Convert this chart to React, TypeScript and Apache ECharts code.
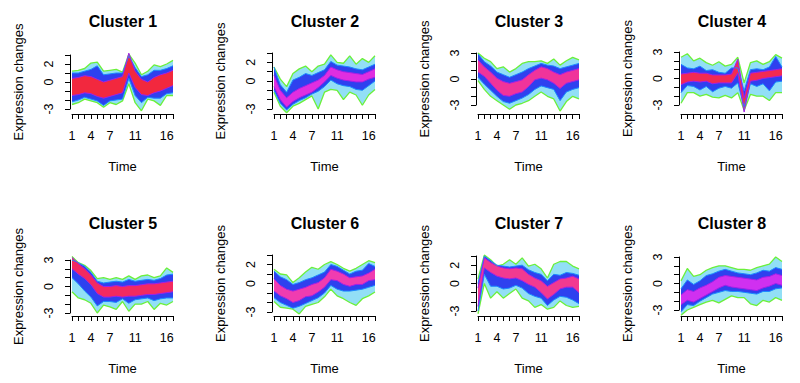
import React, { useEffect, useRef } from 'react';
import * as echarts from 'echarts';

// ---------- data ----------
const TIME = [1, 2, 3, 4, 5, 6, 7, 8, 9, 10, 11, 12, 13, 14, 15, 16, 17];
const X_TICK_LABELS = [1, 4, 7, 11, 16];
const Y_LABELS_A = [-3, 0, 2];
const Y_LABELS_B = [-3, 0, 3];
const TITLES = ['Cluster 1', 'Cluster 2', 'Cluster 3', 'Cluster 4', 'Cluster 5', 'Cluster 6', 'Cluster 7', 'Cluster 8'];

// Cluster 1
const hi1 = [1.2, 1.3, 1.5, 2.1, 2.2, 1.2, 1.3, 1.4, 1.1, 3.1, 2.1, 0.8, 1.2, 1.9, 1.7, 2.0, 2.4];
const bHi1 = [1.0, 1.0, 1.2, 1.4, 1.8, 0.8, 0.9, 1.0, 1.0, 2.9, 1.6, 0.6, 0.8, 1.3, 1.3, 1.5, 1.8];
const rHi1 = [0.4, 0.5, 0.7, 0.6, 0.3, 0.0, 0.2, 0.4, 0.6, 3.2, 1.2, 0.3, 0.0, 0.5, 0.8, 1.0, 1.3];
const rLo1 = [-1.5, -1.4, -1.2, -1.3, -1.6, -1.8, -1.6, -1.4, -1.2, 1.0, -0.6, -1.4, -1.5, -1.2, -1.0, -0.7, -0.4];
const bLo1 = [-2.2, -2.0, -1.7, -1.9, -2.1, -2.6, -2.1, -2.0, -1.9, 0.4, -1.5, -2.3, -1.7, -1.8, -1.8, -1.3, -1.2];
const lo1 = [-2.5, -2.3, -1.9, -2.1, -2.3, -2.8, -2.3, -2.5, -2.1, -0.2, -2.3, -3.2, -1.9, -2.1, -2.6, -1.5, -1.5];

// Cluster 2
const hi2 = [1.5, 0.2, -0.6, 0.8, 1.3, 1.6, 1.0, 1.6, 1.8, 2.8, 2.0, 1.9, 2.7, 1.8, 2.4, 2.0, 2.7];
const bHi2 = [1.5, -0.4, -1.2, 0.1, 0.4, 0.8, 0.6, 0.9, 1.2, 2.1, 1.7, 1.6, 1.5, 1.3, 1.2, 1.5, 1.8];
const rHi2 = [0.6, -1.0, -1.8, -1.2, -0.8, -0.5, -0.2, 0.1, 0.6, 1.5, 1.2, 1.0, 0.9, 0.8, 0.7, 1.0, 1.3];
const rLo2 = [-0.6, -2.0, -2.8, -2.2, -1.8, -1.5, -1.2, -0.7, -0.1, 0.6, 0.3, 0.1, 0.0, -0.1, -0.1, 0.2, 0.4];
const bLo2 = [-1.0, -2.4, -3.1, -2.5, -2.1, -1.8, -1.4, -1.1, -0.6, 0.1, -0.3, -0.5, -0.6, -0.9, -1.0, -0.5, 0.0];
const lo2 = [-1.2, -2.7, -3.4, -2.7, -2.4, -2.0, -1.6, -3.0, -1.2, -0.9, -1.0, -2.0, -1.2, -1.5, -2.6, -1.5, -0.9];

// Cluster 3
const hi3 = [3.0, 2.4, 2.0, 1.2, 1.4, 0.8, 1.2, 1.8, 2.0, 2.0, 2.1, 1.8, 2.3, 1.6, 2.1, 2.5, 2.2];
const bHi3 = [2.9, 2.0, 1.5, 0.8, 0.5, 0.2, 0.5, 0.8, 1.2, 1.5, 1.8, 1.6, 1.5, 1.2, 1.4, 1.6, 1.8];
const rHi3 = [2.2, 1.4, 0.8, 0.1, -0.3, -0.5, -0.3, -0.1, 0.5, 1.0, 1.4, 1.2, 0.8, 0.5, 0.8, 1.0, 1.2];
const rLo3 = [0.8, 0.3, -0.5, -1.3, -1.9, -2.0, -1.7, -1.5, -0.9, -0.1, 0.1, -0.1, -0.5, -1.1, -0.5, -0.3, -0.1];
const bLo3 = [0.2, -0.6, -1.3, -2.0, -2.6, -2.8, -2.5, -2.2, -1.8, -1.2, -0.8, -1.0, -1.2, -2.5, -1.5, -1.2, -1.0];
const lo3 = [-0.2, -1.2, -2.0, -2.5, -3.0, -3.5, -3.0, -2.8, -2.5, -2.0, -1.5, -2.0, -2.3, -3.7, -2.6, -2.0, -2.3];

// Cluster 4
const hi4 = [2.4, 2.8, 2.0, 2.3, 1.8, 1.5, 1.9, 1.4, 1.6, 2.4, -0.5, 1.8, 2.0, 1.6, 1.9, 2.7, 2.3];
const bHi4 = [1.6, 1.2, 1.1, 1.4, 0.9, 1.0, 0.7, 0.6, 1.2, 1.2, -1.4, 1.0, 1.1, 1.0, 1.3, 2.5, 1.3];
const rHi4 = [0.5, 0.6, 0.7, 0.6, 0.6, 0.4, 0.4, 0.4, 0.5, 2.2, -2.2, 0.6, 0.7, 0.8, 0.9, 1.0, 1.1];
const rLo4 = [-0.7, -0.4, -0.3, -0.4, -0.3, -0.6, -0.5, -0.5, -0.5, 0.6, -3.8, -0.3, -0.2, 0.0, 0.1, 0.2, 0.3];
const bLo4 = [-1.6, -0.8, -0.9, -1.3, -0.9, -1.5, -1.1, -0.9, -1.1, -0.5, -3.2, -0.6, -0.9, -0.6, -1.4, -0.4, -0.3];
const lo4 = [-2.8, -1.6, -1.6, -2.0, -1.8, -2.1, -2.2, -1.9, -2.2, -1.6, -3.6, -1.8, -2.0, -2.0, -2.5, -1.6, -1.6];

// Cluster 5
const hi5 = [3.4, 2.7, 2.4, 1.8, 0.9, 1.0, 0.8, 1.0, 0.8, 1.2, 0.8, 1.2, 1.3, 1.0, 1.2, 2.1, 1.6];
const bHi5 = [3.0, 2.7, 2.3, 1.6, 0.6, 0.4, 0.5, 0.6, 0.5, 0.8, 0.6, 0.7, 0.8, 0.7, 0.9, 1.3, 1.4];
const rHi5 = [3.3, 2.6, 2.0, 1.3, 0.4, 0.0, 0.0, 0.1, 0.0, 0.1, 0.1, 0.2, 0.3, 0.3, 0.4, 0.5, 0.6];
const rLo5 = [2.0, 1.4, 0.9, 0.2, -0.8, -1.2, -1.2, -1.1, -1.2, -1.1, -1.1, -1.0, -0.9, -0.9, -0.8, -0.7, -0.6];
const bLo5 = [1.0, 0.3, -0.5, -1.2, -2.2, -1.7, -1.7, -1.8, -1.4, -1.9, -1.5, -1.4, -1.3, -1.6, -1.4, -1.3, -1.3];
const lo5 = [-0.6, -1.3, -1.5, -1.9, -3.0, -2.1, -2.3, -2.6, -1.7, -2.8, -2.0, -2.0, -1.7, -2.6, -1.9, -2.1, -1.7];

// Cluster 6
const hi6 = [1.5, 1.0, 0.9, 0.1, 0.6, 1.2, 1.7, 1.5, 2.0, 2.3, 2.0, 1.6, 1.3, 1.6, 2.0, 2.4, 2.2];
const bHi6 = [1.3, 0.7, 0.4, -0.1, 0.1, 0.4, 0.6, 0.9, 1.2, 2.0, 1.8, 1.4, 1.0, 1.3, 1.4, 2.1, 1.8];
const rHi6 = [0.5, -0.2, -0.6, -0.8, -0.6, -0.4, -0.1, 0.1, 0.6, 1.5, 1.3, 1.0, 0.6, 0.7, 0.8, 1.1, 1.5];
const rLo6 = [-0.8, -1.3, -1.6, -2.0, -1.8, -1.4, -1.3, -0.9, -0.4, 0.4, 0.3, -0.1, -0.3, -0.1, -0.1, 0.3, 0.4];
const bLo6 = [-1.5, -2.0, -2.3, -2.6, -2.4, -2.1, -1.8, -1.5, -1.0, -0.2, -0.6, -0.8, -0.8, -0.7, -0.6, -0.4, -0.2];
const lo6 = [-1.9, -2.5, -2.6, -2.7, -3.2, -2.4, -2.2, -2.0, -1.4, -0.6, -1.3, -1.6, -2.0, -2.3, -1.6, -1.3, -0.9];

// Cluster 7
const hi7 = [0.5, 3.1, 2.6, 1.9, 2.1, 2.6, 2.1, 2.8, 1.9, 2.1, 1.6, 0.6, 2.1, 2.4, 2.4, 1.9, 1.6];
const bHi7 = [0.0, 3.0, 2.5, 2.0, 1.9, 1.8, 1.9, 2.0, 1.5, 1.2, 1.0, 0.3, 1.0, 0.9, 1.2, 1.1, 0.9];
const rHi7 = [-0.5, 2.8, 2.3, 1.9, 1.7, 1.6, 1.7, 1.6, 1.0, 0.6, 0.3, -0.3, 0.1, 0.5, 0.6, 0.8, 0.5];
const rLo7 = [-2.5, 1.7, 1.2, 0.8, 0.6, 0.5, 0.6, 0.3, -0.1, -0.4, -1.0, -1.7, -1.2, -0.6, -0.4, -0.4, -1.0];
const bLo7 = [-3.0, 1.0, -0.3, -0.3, -0.6, -0.5, -0.2, -0.5, -1.1, -1.4, -1.6, -2.4, -1.8, -1.4, -1.5, -1.8, -2.2];
const lo7 = [-3.3, 0.0, -1.6, -0.9, -1.6, -1.1, -0.6, -1.6, -1.9, -2.6, -2.3, -2.8, -2.6, -1.9, -2.4, -2.6, -2.5];

// Cluster 8
const hi8 = [0.3, 1.7, 0.8, 1.0, 1.5, 1.8, 2.0, 2.0, 1.8, 1.6, 1.6, 1.5, 1.8, 2.0, 2.2, 3.0, 2.5];
const bHi8 = [-0.6, 0.4, -0.1, 0.3, 0.9, 1.1, 1.4, 1.6, 1.4, 1.2, 1.1, 1.0, 1.2, 1.5, 1.4, 1.8, 1.6];
const rHi8 = [-1.3, -0.7, -0.9, -0.5, -0.2, 0.2, 0.7, 0.9, 0.8, 0.7, 0.6, 0.5, 0.4, 0.7, 0.8, 1.1, 0.9];
const rLo8 = [-2.4, -1.9, -2.1, -1.7, -1.3, -0.9, -0.5, -0.2, -0.4, -0.5, -0.6, -0.7, -0.8, -0.5, -0.3, 0.0, -0.2];
const bLo8 = [-3.2, -2.4, -2.5, -2.0, -1.6, -1.2, -1.0, -0.8, -0.9, -0.9, -1.0, -1.1, -1.2, -0.9, -0.9, -0.6, -0.5];
const lo8 = [-3.6, -3.0, -2.7, -2.4, -2.1, -1.9, -2.2, -1.8, -1.4, -1.6, -1.6, -2.3, -2.5, -1.9, -2.1, -1.6, -1.9];

const CLUSTERS = [
  { hi: hi1, bHi: bHi1, rHi: rHi1, rLo: rLo1, bLo: bLo1, lo: lo1, yLabels: Y_LABELS_A },
  { hi: hi2, bHi: bHi2, rHi: rHi2, rLo: rLo2, bLo: bLo2, lo: lo2, yLabels: Y_LABELS_A },
  { hi: hi3, bHi: bHi3, rHi: rHi3, rLo: rLo3, bLo: bLo3, lo: lo3, yLabels: Y_LABELS_B },
  { hi: hi4, bHi: bHi4, rHi: rHi4, rLo: rLo4, bLo: bLo4, lo: lo4, yLabels: Y_LABELS_B },
  { hi: hi5, bHi: bHi5, rHi: rHi5, rLo: rLo5, bLo: bLo5, lo: lo5, yLabels: Y_LABELS_B },
  { hi: hi6, bHi: bHi6, rHi: rHi6, rLo: rLo6, bLo: bLo6, lo: lo6, yLabels: Y_LABELS_A },
  { hi: hi7, bHi: bHi7, rHi: rHi7, rLo: rLo7, bLo: bLo7, lo: lo7, yLabels: Y_LABELS_A },
  { hi: hi8, bHi: bHi8, rHi: rHi8, rLo: rLo8, bLo: bLo8, lo: lo8, yLabels: Y_LABELS_B },
];

// ---------- styles / layout ----------
const CORE_COLORS = ['#f2283e', '#e02ee0', '#f0349a', '#f22a52', '#f22a60', '#f03cb0', '#f23a90', '#d030f0'];
const CORE_EDGE = '#a020e8';
const OUTER_LINE = '#6cf03a';
const OUTER_FILL = '#38c4ee';
const BLUE_LINE = '#1a8cff';
const BLUE_FILL = '#2430ee';
const FONT = '"Liberation Sans", Arial, Helvetica, sans-serif';

const AXIS_X = [70, 272, 476, 679];
const PANEL_Y = [[55, 109], [53, 109], [53, 105], [52, 105], [260, 313], [255, 312], [256, 311], [257, 310]];
const X_LINE = [114, 316];
const TITLE_Y = [21, 223];
const PLOT_W = 101;

function band(i: number, id: string, base: number[], top: number[], lineColor: string, lineW: number, fill: string, op: number) {
  const common = {
    type: 'line', xAxisIndex: i, yAxisIndex: i, stack: id, stackStrategy: 'all',
    symbol: 'none', showSymbol: false, clip: false, silent: true,
    lineStyle: { color: lineColor, width: lineW },
  };
  return [
    { ...common, data: base.slice() },
    { ...common, data: top.map((v, k) => +(v - base[k]).toFixed(3)), areaStyle: { color: fill, opacity: op } },
  ];
}

export default function App() {
  const ref = useRef<HTMLDivElement>(null);
  useEffect(() => {
    document.body.style.margin = '0';
    const chart = echarts.init(ref.current!, null, { renderer: 'svg' });
    const grid: any[] = [];
    const xAxis: any[] = [];
    const yAxis: any[] = [];
    const series: any[] = [];
    const graphic: any[] = [];
    CLUSTERS.forEach((c, i) => {
      const col = i % 4;
      const row = Math.floor(i / 4);
      const [yTop, yBot] = PANEL_Y[i];
      grid.push({ left: AXIS_X[col] + 2, top: yTop, width: PLOT_W, height: yBot - yTop });
      xAxis.push({
        gridIndex: i, type: 'category', data: TIME.map(String), boundaryGap: false,
        offset: X_LINE[row] - yBot,
        axisLine: { show: true, onZero: false, lineStyle: { color: '#000', width: 1 } },
        axisTick: { show: true, interval: 0, length: 5, lineStyle: { color: '#000', width: 1 } },
        splitLine: { show: false },
        axisLabel: {
          interval: 0, margin: 15, fontSize: 12.5, color: '#000', fontFamily: FONT,
          formatter: (v: string) => (X_TICK_LABELS.includes(Number(v)) ? v : ''),
        },
        name: 'Time', nameLocation: 'middle', nameGap: 46,
        nameTextStyle: { fontSize: 13, color: '#000', fontFamily: FONT },
      });
      yAxis.push({
        gridIndex: i, type: 'value', min: -3, max: 3, interval: 1, offset: 2,
        axisLine: { show: true, onZero: false, lineStyle: { color: '#000', width: 1 } },
        axisTick: { show: true, length: 5, lineStyle: { color: '#000', width: 1 } },
        splitLine: { show: false },
        axisLabel: {
          rotate: 90, margin: 15, fontSize: 12.5, color: '#000', fontFamily: FONT,
          formatter: (v: number) => (c.yLabels.includes(v) ? String(v) : ''),
        },
        name: 'Expression changes', nameLocation: 'middle', nameGap: 45,
        nameTextStyle: { fontSize: 13, color: '#000', fontFamily: FONT },
      });
      series.push(...band(i, 'o' + i, c.lo, c.hi, OUTER_LINE, 1.3, OUTER_FILL, 0.55));
      series.push(...band(i, 'b' + i, c.bLo, c.bHi, BLUE_LINE, 1, BLUE_FILL, 0.9));
      series.push(...band(i, 'r' + i, c.rLo, c.rHi, CORE_EDGE, 1, CORE_COLORS[i], 1));
      graphic.push({
        type: 'text', x: AXIS_X[col] + 53, y: TITLE_Y[row], z: 100,
        style: { text: TITLES[i], fontSize: 16, fontWeight: 'bold', fontFamily: FONT, fill: '#000', align: 'center', verticalAlign: 'middle' },
      });
    });
    chart.setOption({ animation: false, backgroundColor: '#fff', grid, xAxis, yAxis, series, graphic });
    return () => chart.dispose();
  }, []);
  return <div ref={ref} style={{ position: 'absolute', left: 0, top: 0, width: 800, height: 383 }} />;
}
